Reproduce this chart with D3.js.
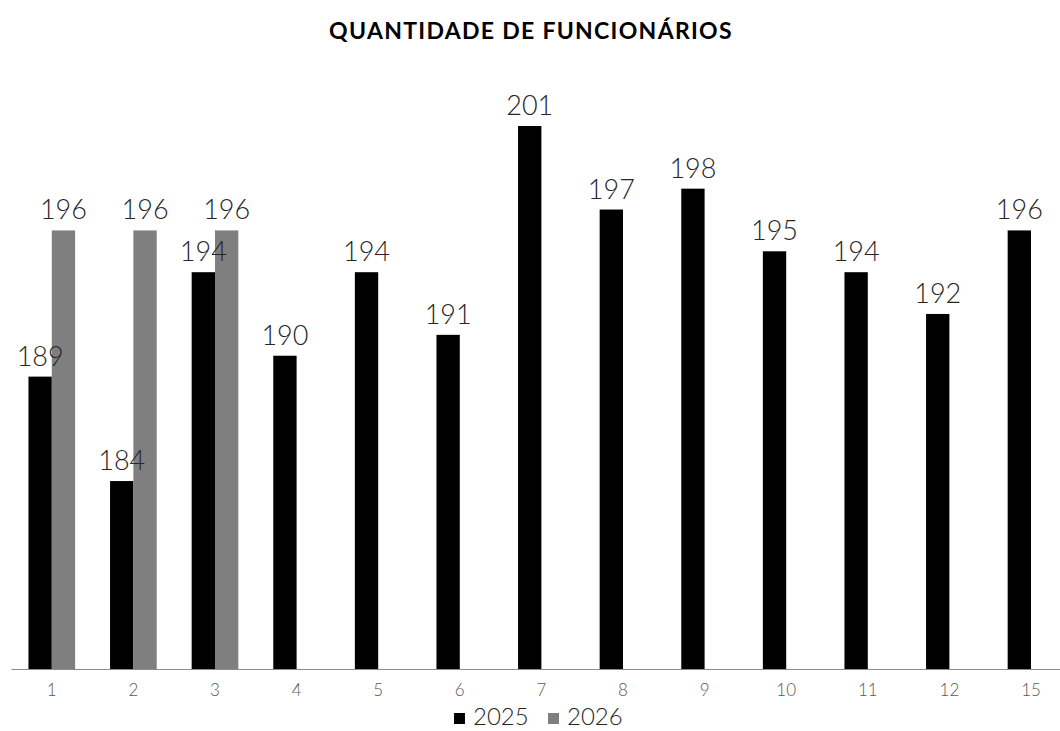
<!DOCTYPE html>
<html>
<head>
<meta charset="utf-8">
<script src="https://cdn.jsdelivr.net/npm/d3@7"></script>
<style>
  html, body { margin: 0; padding: 0; background: #fff; overflow: hidden; }
  svg { display: block; font-family: Lato, "Open Sans", sans-serif; }
</style>
</head>
<body>
<div id="chart"></div>
<script>
const categories = ['1', '2', '3', '4', '5', '6', '7', '8', '9', '10', '11', '12', '15'];
const series = ['2025', '2026'];
const values2025 = [189, 184, 194, 190, 194, 191, 201, 197, 198, 195, 194, 192, 196];
const values2026 = [196, 196, 196, null, null, null, null, null, null, null, null, null, null];
const colors = ['#000000', '#7f7f7f'];

const width = 1060;
const height = 731;

const svg = d3.select('#chart')
  .append('svg')
  .attr('width', width)
  .attr('height', height);

const x = d3.scaleBand()
  .domain(categories)
  .range([11, 11 + 13 * 81.6])
  .paddingInner(0.428)
  .paddingOuter(0.214);

const xs = d3.scaleBand()
  .domain(series)
  .range([0, x.bandwidth()]);

const y = d3.scaleLinear()
  .domain([175, 201])
  .range([669, 126]);

// title
svg.append('text')
  .attr('x', 531)
  .attr('y', 39)
  .attr('text-anchor', 'middle')
  .style('font-size', '23px')
  .style('font-weight', 700)
  .style('letter-spacing', '1.3px')
  .style('fill', '#000')
  .text('QUANTIDADE DE FUNCIONÁRIOS');

const rows = categories.map((c, i) => ({ cat: c, vals: [values2025[i], values2026[i]] }));

const groups = svg.selectAll('.group')
  .data(rows)
  .enter()
  .append('g')
  .attr('class', 'group')
  .attr('transform', d => `translate(${x(d.cat)},0)`);

const cells = groups.selectAll('.cell')
  .data(d => d.vals.map((v, j) => ({ key: series[j], v, j })).filter(e => e.v != null))
  .enter();

cells.append('rect')
  .attr('x', d => xs(d.key))
  .attr('width', xs.bandwidth())
  .attr('y', d => y(d.v))
  .attr('height', d => y(175) - y(d.v))
  .attr('fill', d => colors[d.j]);

cells.append('text')
  .attr('x', d => xs(d.key) + xs.bandwidth() / 2)
  .attr('y', d => y(d.v) - 11)
  .attr('text-anchor', 'middle')
  .style('font-size', '27px')
  .style('font-weight', 300)
  .style('fill', '#262626')
  .text(d => d.v);

// x axis
const axis = svg.append('g')
  .attr('transform', `translate(0,${y(175)})`)
  .call(d3.axisBottom(x).tickSize(0).tickSizeOuter(0).tickPadding(15));

axis.select('.domain').attr('stroke', '#8c8c8c').attr('stroke-width', 1);
axis.selectAll('text')
  .style('font-family', 'Lato, sans-serif')
  .style('font-size', '17px')
  .style('font-weight', 300)
  .style('fill', '#595959');

// legend
const legendItems = [
  { name: series[0], color: colors[0], x: 454 },
  { name: series[1], color: colors[1], x: 548 }
];
const legend = svg.selectAll('.legend')
  .data(legendItems)
  .enter()
  .append('g')
  .attr('class', 'legend')
  .attr('transform', d => `translate(${d.x},713)`);

legend.append('rect')
  .attr('width', 11)
  .attr('height', 11)
  .attr('fill', d => d.color);

legend.append('text')
  .attr('x', 19)
  .attr('y', 12)
  .style('font-size', '24px')
  .style('font-weight', 300)
  .style('fill', '#262626')
  .text(d => d.name);
</script>
</body>
</html>
